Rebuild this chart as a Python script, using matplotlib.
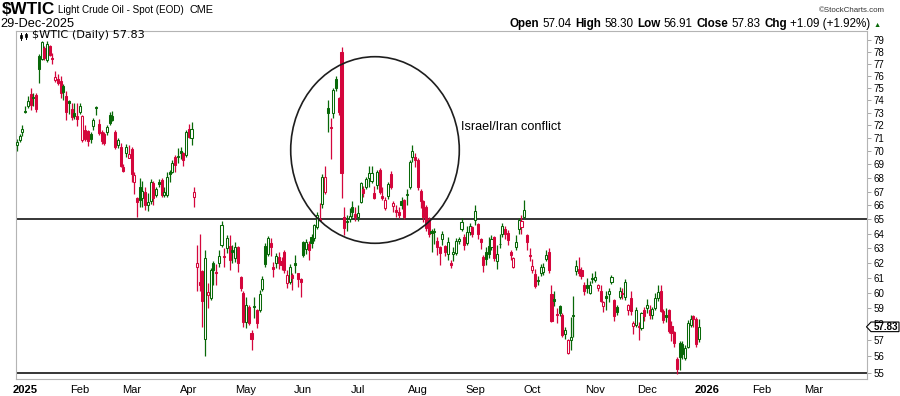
import numpy as np
import pandas as pd
import matplotlib
matplotlib.use('Agg')
import matplotlib.pyplot as plt
from matplotlib import font_manager
from matplotlib.patches import Ellipse, Rectangle, Polygon
from matplotlib.ticker import FixedLocator, NullLocator

# daily candles (open, high, low, close)
dec_24 = [(70.5, 70.9, 70.0, 70.7), (70.85, 71.3, 70.7, 71.15), (71.5, 72.0, 71.2, 71.75)]
jan_25 = [(73.1, 73.5, 73.0, 73.05), (73.5, 74.3, 73.35, 73.9), (74.5, 74.95, 73.2, 73.6),
          (74.2, 74.55, 73.5, 74.25), (74.4, 74.6, 73.05, 73.3), (77.6, 77.85, 75.4, 76.55),
          (77.4, 78.95, 77.3, 78.8), (78.3, 78.45, 77.3, 77.45), (77.3, 78.9, 77.15, 78.7),
          (78.45, 78.6, 77.6, 77.75), (77.45, 77.9, 77.0, 77.35), (75.65, 76.4, 75.45, 75.85),
          (75.75, 76.1, 75.25, 75.4), (75.55, 76.0, 74.15, 74.55), (75.15, 75.3, 74.05, 74.65),
          (74.3, 74.7, 72.4, 73.05), (73.95, 74.0, 72.9, 73.75), (73.3, 73.8, 72.4, 72.65),
          (72.95, 73.8, 72.5, 72.7), (72.75, 73.8, 71.95, 72.5)]
feb_25 = [(73.05, 73.8, 72.9, 73.5), (70.85, 72.85, 70.7, 72.7), (71.65, 72.05, 70.75, 70.9),
          (71.55, 71.65, 70.4, 70.75), (71.3, 71.5, 70.6, 70.9), (71.95, 72.6, 71.65, 72.4),
          (73.45, 73.5, 72.85, 73.35), (72.1, 72.5, 71.25, 71.4), (71.45, 71.65, 70.55, 70.75),
          (71.3, 71.45, 70.45, 70.6), (71.5, 72.0, 71.25, 71.85), (72.85, 73.05, 72.0, 72.2),
          (72.75, 73.15, 72.35, 72.45), (71.5, 71.65, 70.2, 70.35), (70.5, 71.0, 70.25, 70.85),
          (70.35, 70.6, 68.8, 68.85), (68.8, 69.0, 68.4, 68.5), (69.85, 70.55, 69.6, 70.3),
          (69.45, 70.45, 69.45, 69.8)]
mar_25 = [(70.2, 70.35, 67.7, 68.3), (67.7, 68.45, 66.8, 68.25), (66.55, 66.6, 65.2, 66.25),
          (67.3, 68.0, 65.9, 66.35), (66.5, 67.75, 65.9, 67.05), (67.0, 67.3, 65.7, 66.05),
          (66.0, 66.9, 65.6, 66.25), (66.3, 67.9, 66.1, 67.7), (67.6, 67.75, 66.0, 66.55),
          (66.75, 67.35, 66.6, 67.15), (67.7, 67.9, 67.3, 67.55), (67.85, 68.0, 66.6, 66.75),
          (66.75, 67.35, 66.6, 67.0), (66.75, 68.45, 66.6, 68.1), (68.4, 68.6, 67.7, 68.28),
          (68.45, 69.3, 68.35, 69.1), (69.6, 69.75, 68.45, 68.95), (69.6, 70.25, 69.1, 69.65),
          (70.05, 70.3, 69.4, 69.9), (69.85, 69.95, 68.9, 69.3), (69.7, 71.6, 69.55, 71.5)]
apr_25 = [(71.7, 72.1, 71.0, 71.1), (71.05, 72.3, 70.5, 71.7), (66.6, 67.3, 65.9, 67.0),
          (61.75, 63.2, 60.1, 62.0), (60.75, 64.0, 60.1, 60.55), (61.45, 61.5, 57.85, 59.5),
          (57.05, 62.9, 56.0, 62.3), (59.85, 60.65, 59.0, 60.05), (59.7, 61.65, 59.55, 61.5),
          (62.0, 62.1, 60.55, 61.55), (61.4, 61.95, 60.55, 61.3), (62.0, 62.9, 61.75, 62.45),
          (63.2, 64.85, 63.1, 64.6), (62.45, 63.0, 61.75, 62.37), (63.0, 63.9, 62.65, 63.7),
          (63.15, 63.9, 61.5, 62.2), (62.85, 63.2, 61.97, 62.75), (62.3, 63.4, 62.05, 63.1),
          (63.1, 63.15, 61.4, 62.0), (61.07, 61.1, 60.1, 60.3), (60.0, 60.1, 57.85, 58.15)]
may_25 = [(58.15, 59.75, 57.75, 59.2), (59.1, 59.2, 57.95, 58.05), (57.45, 57.65, 56.4, 57.05),
          (59.15, 59.75, 58.4, 59.1), (58.9, 58.95, 57.75, 58.05), (58.9, 60.2, 58.8, 59.95),
          (60.25, 61.1, 60.1, 60.95), (63.15, 63.35, 61.75, 61.95), (62.6, 63.85, 62.45, 63.68),
          (63.35, 63.7, 62.45, 63.05), (61.7, 62.05, 61.05, 61.57), (62.0, 62.65, 61.65, 62.46),
          (62.4, 62.7, 61.6, 62.0), (62.1, 62.4, 61.5, 61.85), (62.75, 62.9, 61.35, 61.55),
          (60.65, 61.5, 60.3, 61.2), (60.7, 61.9, 60.6, 61.7), (61.2, 61.3, 60.2, 61.0),
          (62.0, 62.55, 61.3, 61.85), (61.3, 61.35, 60.4, 60.9), (60.9, 61.0, 59.75, 60.75)]
jun_25 = [(63.45, 63.5, 62.4, 62.55), (62.95, 63.6, 62.6, 63.4), (63.3, 63.5, 62.2, 62.9),
          (63.8, 64.0, 63.0, 63.35), (63.7, 64.7, 63.5, 64.6), (64.45, 65.5, 64.3, 65.3),
          (65.05, 66.2, 64.9, 64.98), (66.1, 68.3, 65.8, 68.1), (67.0, 68.85, 66.85, 68.04),
          (73.4, 74.0, 71.5, 72.98), (71.85, 72.6, 69.4, 71.77), (73.0, 75.0, 72.6, 74.85),
          (75.75, 76.0, 74.75, 74.95), (74.15, 74.25, 72.85, 73.05), (78.0, 78.4, 66.55, 68.35),
          (65.2, 65.9, 63.9, 64.4), (64.8, 65.3, 64.2, 64.9), (65.0, 65.8, 64.8, 65.25),
          (65.9, 66.3, 65.2, 65.55), (65.4, 65.9, 64.9, 65.2)]
jul_25 = [(65.2, 66.0, 64.9, 65.45), (66.25, 67.7, 66.2, 67.6), (67.2, 67.4, 66.6, 66.9),
          (67.35, 68.05, 67.2, 67.9), (68.0, 68.9, 67.35, 68.35), (67.75, 68.9, 67.6, 68.38),
          (66.9, 67.4, 66.45, 66.55), (67.45, 68.6, 67.2, 68.45), (68.55, 68.7, 66.8, 66.95),
          (66.7, 67.35, 66.35, 66.55), (65.8, 66.6, 65.65, 66.4), (66.65, 67.7, 66.45, 67.55),
          (68.3, 68.5, 67.2, 67.35), (65.95, 66.3, 65.5, 66.2), (65.65, 66.0, 65.15, 65.5),
          (65.55, 65.9, 65.1, 65.3), (66.3, 66.6, 65.75, 66.05), (66.35, 66.45, 65.0, 65.15),
          (66.75, 67.2, 66.0, 66.8), (67.35, 69.3, 67.2, 69.15), (69.6, 70.5, 69.2, 70.0),
          (69.55, 69.9, 68.8, 69.35)]
aug_25 = [(69.35, 69.45, 67.1, 67.35), (67.05, 67.2, 65.8, 66.3), (66.3, 66.4, 64.8, 65.15),
          (65.9, 66.0, 64.2, 64.4), (65.05, 65.2, 63.8, 64.0), (64.15, 64.3, 62.75, 64.05),
          (64.2, 64.4, 63.3, 64.1), (63.5, 63.8, 62.55, 63.1), (63.1, 63.15, 61.85, 62.65),
          (63.6, 64.15, 63.2, 63.95), (63.15, 63.2, 62.45, 62.7), (62.6, 63.8, 62.2, 63.45),
          (62.0, 62.2, 61.65, 61.85), (62.6, 63.1, 62.1, 62.75), (62.65, 63.7, 62.5, 63.5),
          (63.5, 63.75, 63.3, 63.6), (64.3, 65.1, 64.15, 64.8), (63.8, 63.95, 62.85, 63.2),
          (63.35, 64.5, 63.2, 64.1), (64.1, 64.75, 63.9, 64.55), (64.45, 64.55, 63.75, 63.95)]
sep_25 = [(64.95, 66.0, 64.6, 65.6), (64.65, 64.75, 63.6, 63.95), (63.6, 63.7, 62.95, 63.4),
          (62.4, 62.55, 61.4, 61.85), (62.75, 63.1, 61.85, 62.25), (63.15, 63.8, 62.3, 62.6),
          (63.1, 63.9, 62.9, 63.65), (63.8, 63.85, 62.1, 62.35), (62.1, 63.2, 61.6, 62.6),
          (63.25, 64.0, 63.0, 63.3), (64.0, 64.75, 63.8, 64.55), (64.3, 64.5, 63.6, 63.95),
          (64.05, 64.25, 63.2, 63.55), (62.75, 62.9, 62.2, 62.55), (61.75, 62.4, 61.65, 62.3),
          (63.05, 63.9, 62.9, 63.4), (64.3, 65.1, 64.0, 64.95), (64.45, 65.3, 64.0, 64.9),
          (65.2, 66.35, 65.1, 65.7), (63.9, 64.0, 62.85, 63.45), (62.55, 63.0, 62.1, 62.45)]
oct_25 = [(61.5, 62.25, 61.3, 61.8), (61.25, 61.6, 60.3, 60.45), (60.8, 61.1, 60.5, 60.85),
          (61.35, 61.9, 61.1, 61.7), (61.4, 62.0, 61.2, 61.75), (62.25, 62.9, 62.1, 62.55),
          (62.7, 63.0, 61.35, 61.5), (59.95, 60.55, 58.15, 58.2), (59.6, 60.15, 59.15, 59.45),
          (58.65, 59.0, 58.05, 58.6), (59.15, 59.2, 58.5, 58.7), (58.55, 58.7, 57.2, 57.3),
          (57.35, 57.8, 57.1, 57.6), (56.2, 57.05, 56.15, 57.0), (57.0, 58.45, 56.4, 57.2),
          (58.55, 59.8, 57.2, 58.5), (61.45, 62.2, 61.2, 61.8), (61.6, 62.4, 61.1, 61.35),
          (61.55, 61.7, 60.9, 61.15), (60.5, 60.75, 59.85, 60.1), (60.5, 61.0, 60.0, 60.3),
          (60.0, 60.8, 59.9, 60.5), (61.0, 61.3, 60.65, 60.95)]
nov_25 = [(60.85, 61.45, 60.75, 61.05), (60.3, 60.6, 60.15, 60.5), (60.1, 60.5, 59.4, 59.5),
          (59.15, 59.5, 58.8, 59.4), (59.8, 60.1, 58.9, 59.7), (59.9, 60.3, 59.4, 60.1),
          (60.7, 61.2, 60.6, 61.05), (59.55, 59.6, 58.2, 58.5), (59.1, 59.2, 58.6, 58.75),
          (59.75, 60.4, 59.6, 60.1), (60.0, 60.3, 59.6, 59.9), (59.75, 60.95, 59.55, 60.7),
          (58.9, 59.3, 58.6, 59.2), (59.7, 60.1, 58.6, 58.85), (57.9, 58.2, 57.35, 58.1),
          (57.95, 59.1, 57.85, 58.9), (57.9, 58.15, 57.0, 57.85), (57.75, 58.8, 57.6, 58.7),
          (58.9, 59.1, 58.2, 58.5)]
dec_25 = [(59.0, 59.6, 58.7, 59.25), (58.9, 59.2, 58.3, 58.6), (58.55, 59.1, 58.3, 58.95),
          (59.05, 60.0, 58.9, 59.65), (59.7, 60.5, 59.5, 60.05), (60.1, 60.5, 58.8, 58.85),
          (58.85, 58.95, 58.1, 58.25), (58.55, 59.05, 58.15, 58.45), (58.9, 58.95, 57.45, 57.55),
          (57.9, 58.2, 56.95, 57.45), (57.5, 57.55, 56.6, 56.8), (55.85, 55.95, 54.95, 55.25),
          (56.8, 56.95, 55.2, 55.95), (56.75, 56.95, 55.85, 56.15), (55.9, 56.7, 55.8, 56.5),
          (56.6, 58.25, 56.5, 58.05), (57.95, 58.55, 57.85, 58.35), (58.5, 58.6, 57.85, 58.3),
          (58.35, 58.45, 56.6, 56.75), (57.04, 58.30, 56.91, 57.83)]
close_before = 69.6

holidays = ['2025-01-01', '2025-01-09', '2025-01-20', '2025-02-17', '2025-04-18',
            '2025-05-26', '2025-06-19', '2025-07-04', '2025-09-01', '2025-11-27',
            '2025-12-25', '2026-01-01', '2026-01-19', '2026-02-16']
price_ticks = list(range(55, 80))
support_lines = [65, 55]
last_close = 57.83
quote = [('Open', '57.04'), ('High', '58.30'), ('Low', '56.91'), ('Close', '57.83'),
         ('Chg', '+1.09 (+1.92%)')]

GREEN = '#086808'
RED = '#d4063c'
W, H = 900, 396

installed = {f.name for f in font_manager.fontManager.ttflist}
if 'Liberation Sans Narrow' in installed:
    NARROW = ['Liberation Sans Narrow', 'DejaVu Sans']
else:
    NARROW = ['Liberation Sans', 'DejaVu Sans']
ARIAL = ['Liberation Sans', 'DejaVu Sans']

rows = np.array(dec_24 + jan_25 + feb_25 + mar_25 + apr_25 + may_25 + jun_25
                + jul_25 + aug_25 + sep_25 + oct_25 + nov_25 + dec_25)
op, hi, lo, cl = rows.T
n = len(cl)
days = pd.bdate_range('2024-12-27', '2026-03-31', freq='C', holidays=holidays)


def fpos(x, y):
    # pixel position (from top-left) -> figure fraction
    return x / W, 1 - y / H


fig = plt.figure(figsize=(W / 100, H / 100), dpi=100)
ax = fig.add_axes([16 / W, 1 - 379 / H, (867 - 16) / W, (379 - 31) / H])
ax.set_yscale('log')
ax.set_ylim(54.64, 79.78)
ax.set_xlim(-0.37, 311.7)

prev = np.concatenate([[close_before], cl[:-1]])
for i in range(n):
    col = GREEN if cl[i] > prev[i] else RED
    ax.plot([i, i], [lo[i], hi[i]], color=col, lw=0.9, solid_capstyle='butt', zorder=2)
    bot, top = min(op[i], cl[i]), max(op[i], cl[i])
    top = max(top, bot * 1.0009)
    hollow = cl[i] > op[i]
    ax.add_patch(Rectangle((i - 0.38, bot), 0.76, top - bot,
                           facecolor='white' if hollow else col, edgecolor=col,
                           lw=0.75, zorder=3))

for lvl in support_lines:
    ax.axhline(lvl, color='black', lw=1.1, zorder=1)

# price axis on the right
ax.yaxis.tick_right()
ax.yaxis.set_major_locator(FixedLocator(price_ticks))
ax.yaxis.set_minor_locator(NullLocator())
ax.set_yticklabels([str(v) for v in price_ticks])
ax.tick_params(axis='y', which='major', length=3, width=0.6, color='#999999',
               labelsize=7, pad=1.5)
for t in ax.get_yticklabels():
    t.set_family(NARROW)

# month labels at the first trading day of each month
month_pos, month_lab = [], []
for i in range(1, len(days)):
    if days[i].month != days[i - 1].month:
        month_pos.append(i)
        month_lab.append(str(days[i].year) if days[i].month == 1 else days[i].strftime('%b'))
ax.set_xticks(month_pos)
ax.set_xticklabels(month_lab)
ax.tick_params(axis='x', length=0, pad=4, labelsize=8)
for t in ax.get_xticklabels():
    t.set_family(NARROW)
    if t.get_text().isdigit():
        t.set_fontweight('bold')

for s in ax.spines.values():
    s.set_color('#b4b4b4')
    s.set_linewidth(0.8)

# annotation
fig.add_artist(Ellipse(fpos(375, 150), 168.6 / W, 186.6 / H, transform=fig.transFigure,
                       fill=False, edgecolor='#1e1e1e', lw=1.2, zorder=5))

renderer = fig.canvas.get_renderer()


def fit(t, width):
    w = t.get_window_extent(renderer).width
    t.set_fontsize(t.get_fontsize() * width / w)


t = fig.text(*fpos(461, 129.5), 'Israel/Iran conflict', fontsize=9.2, family=ARIAL,
             va='baseline')
fit(t, 100)

# header
t = fig.text(*fpos(1.5, 14.4), '$WTIC', fontsize=12, fontweight='bold', family=ARIAL,
             va='baseline')
fit(t, 53)
t = fig.text(*fpos(57.6, 12.7), 'Light Crude Oil - Spot (EOD)', fontsize=8.6, family=NARROW,
             va='baseline')
fit(t, 125)
t = fig.text(*fpos(190, 12.7), 'CME', fontsize=6.5, family=NARROW, va='baseline')
fit(t, 24)
t = fig.text(*fpos(0.5, 27.3), '29-Dec-2025', fontsize=8.5, family=NARROW, va='baseline')
fit(t, 73)
t = fig.text(*fpos(885, 12.5), '\u00a9StockCharts.com', fontsize=7.5, family=NARROW,
             va='baseline', ha='right', color='#333333')
fit(t, 65)

segs = []
for lab, val in quote:
    segs.append((lab, 'bold', 'black', 8.0))
    segs.append((val, 'normal', 'black', 8.0))
segs.append(('\u25b2', 'normal', GREEN, 5.0))
texts = [fig.text(0, 1 - 27.3 / H, s, fontsize=fs, fontweight=w, color=c, family=NARROW,
                  va='baseline') for s, w, c, fs in segs]


def seg_width():
    tot = 0
    for k, t in enumerate(texts):
        tot += t.get_window_extent(renderer).width
        if k < len(texts) - 1:
            tot += 0.3 * texts[0].get_fontsize() * 100 / 72
    return tot


for _ in range(2):
    k = 375 / seg_width()
    for t in texts:
        t.set_fontsize(t.get_fontsize() * k)
x = 509.5
for t in texts:
    t.set_x(x / W)
    x += t.get_window_extent(renderer).width + 0.3 * texts[0].get_fontsize() * 100 / 72

# legend line inside the chart
for bx, b0, b1, w0, w1 in [(20, 34.5, 37.5, 32.5, 39.5), (24.5, 33.5, 36.5, 32.5, 38.5)]:
    fig.add_artist(plt.Line2D([(bx + 1) / W] * 2, [1 - w0 / H, 1 - w1 / H],
                              transform=fig.transFigure, color='black', lw=0.7))
    fig.add_artist(Rectangle(fpos(bx, b1), 2.2 / W, (b1 - b0) / H, transform=fig.transFigure,
                             facecolor='black', edgecolor='black', lw=0.5))
t = fig.text(*fpos(31.7, 37.8), '$WTIC (Daily) 57.83', fontsize=7.3, family='DejaVu Sans',
             va='baseline')
fit(t, 113)

# last price tag
ypix = ax.transData.transform((0, last_close))[1]
yc = H - ypix
tag = [(866.5, yc), (871, yc - 4.8), (899, yc - 4.8), (899, yc + 4.8), (871, yc + 4.8)]
fig.add_artist(Polygon([fpos(px, py) for px, py in tag], closed=True, transform=fig.transFigure,
                       facecolor='white', edgecolor='black', lw=0.8, zorder=5))
t = fig.text(*fpos(885.5, yc + 0.3), '57.83', ha='center', va='center', fontweight='bold',
             family=NARROW, fontsize=8, zorder=6)
fit(t, 25)

fig.savefig('out.png', dpi=100)
